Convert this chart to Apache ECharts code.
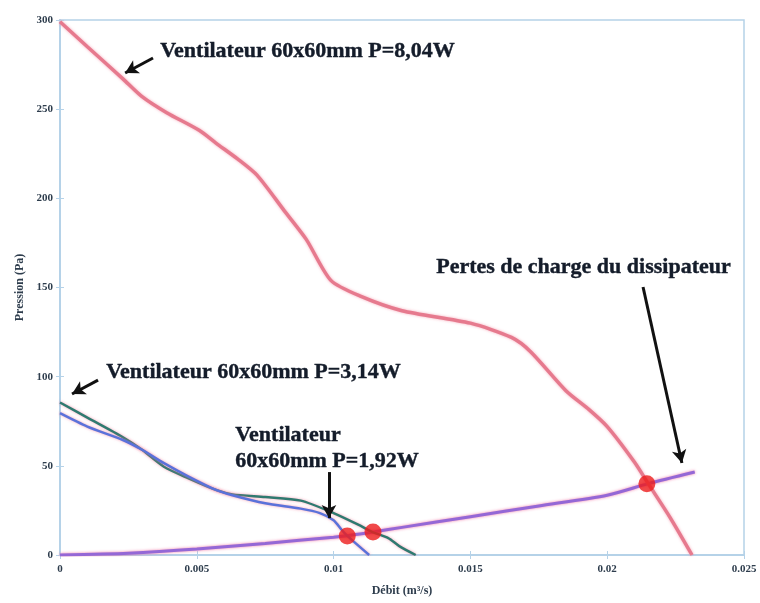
<!DOCTYPE html>
<html>
<head>
<meta charset="utf-8">
<script src="https://cdn.jsdelivr.net/npm/echarts@6/dist/echarts.min.js"></script>
<style>html,body{margin:0;padding:0;background:#fff;}#chart{width:760px;height:603px;}</style>
</head>
<body>
<div id="chart"></div>
<script>
// ---- data ----
var xTickLabels = ['0', '0.005', '0.01', '0.015', '0.02', '0.025'];
var yTickLabels = ['0', '50', '100', '150', '200', '250', '300'];

var fan804X = [0, 0.001, 0.0023, 0.003, 0.0039, 0.0051, 0.0057, 0.0065, 0.0072, 0.0082, 0.009, 0.0099, 0.011, 0.0125, 0.015, 0.0165, 0.0172, 0.0185, 0.0193, 0.02, 0.021, 0.0215, 0.0223, 0.0231];
var fan804Y = [299, 285, 267, 257, 248, 238, 231, 222, 213, 193, 177, 154, 145, 137, 130, 122, 114, 92, 82, 72, 52, 40, 21, 0];

var fan314X = [0, 0.001, 0.0023, 0.003, 0.0038, 0.0047, 0.0057, 0.0063, 0.0075, 0.0088, 0.01, 0.0109, 0.0114, 0.012, 0.0124, 0.013];
var fan314Y = [85.5, 77, 66, 59, 49.5, 43, 36.5, 34, 32.5, 30.5, 23.5, 17, 13, 9.5, 5, 0];

var fan192X = [0, 0.001, 0.0023, 0.003, 0.0038, 0.0047, 0.0057, 0.0063, 0.0075, 0.0088, 0.0095, 0.01, 0.0103, 0.0105, 0.0113];
var fan192Y = [79.5, 72, 64.5, 59, 51.5, 44, 36.5, 33.5, 29, 26, 23.5, 19.5, 14, 10.7, 0];

var lossX = [0, 0.0025, 0.005, 0.0075, 0.01, 0.0105, 0.0115, 0.0125, 0.015, 0.0175, 0.02, 0.0215, 0.0232];
var lossY = [0, 1.0, 3.3, 6.5, 10, 10.8, 13, 15.5, 21.5, 27.5, 33.5, 40, 46.5];

var pointX = [0.0105, 0.01144, 0.02145];
var pointY = [10.6, 12.9, 40];

// annotation arrows in data space
var arrowsTailX = [0.0034, 0.00139, 0.00983, 0.02131];
var arrowsTailY = [278.7, 98.1, 46.5, 150.3];
var arrowsHeadX = [0.00238, 0.00044, 0.00983, 0.02273];
var arrowsHeadY = [270.3, 90.3, 20.7, 51.6];

function zip(xs, ys) { return xs.map(function (x, i) { return [x, ys[i]]; }); }

var serif = '"Liberation Serif", "DejaVu Serif", serif';
var axisBlue = '#b5d2e8';
var tickLabelStyle = { fontFamily: serif, fontWeight: 'bold', fontSize: 11, color: '#2e3d4d' };

var chart = echarts.init(document.getElementById('chart'));

var arrowData = arrowsTailX.map(function (tx, i) {
  return [{ coord: [tx, arrowsTailY[i]] }, { coord: [arrowsHeadX[i], arrowsHeadY[i]] }];
});

function lineSeries(name, data, color, width, glow) {
  return {
    name: name, type: 'line', data: data, showSymbol: false, smooth: 0.25,
    xAxisIndex: 0, yAxisIndex: 0,
    lineStyle: { color: color, width: width, shadowColor: glow, shadowBlur: 3 },
    z: 3
  };
}

var annoText = { fontFamily: serif, fontWeight: 'bold', fontSize: 22, fill: '#141c2a', stroke: '#141c2a', lineWidth: 0.4 };
function txt(x, y, s) {
  return { type: 'text', left: x, top: y, style: Object.assign({ text: s }, annoText), z: 10 };
}

var option = {
  backgroundColor: '#ffffff',
  animation: false,
  grid: { left: 60, right: 16, top: 20, bottom: 48, show: true, borderColor: axisBlue, borderWidth: 1.5 },
  xAxis: [{
    type: 'value', min: 0, max: 0.025, interval: 0.005,
    axisLine: { show: true, onZero: false, lineStyle: { color: axisBlue, width: 2 } },
    axisTick: { show: true, inside: true, length: 4, lineStyle: { color: axisBlue } },
    splitLine: { show: false },
    axisLabel: Object.assign({ margin: 9, formatter: function (v) { return xTickLabels[Math.round(v / 0.005)]; } }, tickLabelStyle),
    name: 'Débit (m³/s)', nameLocation: 'middle', nameGap: 30,
    nameTextStyle: { fontFamily: serif, fontWeight: 'bold', fontSize: 12, color: '#2e3d4d' }
  }, {
    type: 'value', min: 0, max: 0.025, interval: 0.005, position: 'top',
    axisLine: { show: true, lineStyle: { color: axisBlue, width: 2 } },
    axisTick: { show: true, inside: true, length: 4, lineStyle: { color: axisBlue } },
    axisLabel: { show: false }, splitLine: { show: false }
  }],
  yAxis: [{
    type: 'value', min: 0, max: 300, interval: 50,
    axisLine: { show: true, onZero: false, lineStyle: { color: axisBlue, width: 2 } },
    axisTick: { show: true, inside: true, length: 4, lineStyle: { color: axisBlue } },
    splitLine: { show: false },
    axisLabel: Object.assign({ margin: 7, formatter: function (v) { return yTickLabels[Math.round(v / 50)]; } }, tickLabelStyle),
    name: 'Pression (Pa)', nameLocation: 'middle', nameGap: 32, nameRotate: 90,
    nameTextStyle: { fontFamily: serif, fontWeight: 'bold', fontSize: 12, color: '#2e3d4d' }
  }, {
    type: 'value', min: 0, max: 300, interval: 50, position: 'right',
    axisLine: { show: true, lineStyle: { color: axisBlue, width: 2 } },
    axisTick: { show: true, inside: true, length: 4, lineStyle: { color: axisBlue } },
    axisLabel: { show: false }, splitLine: { show: false }
  }],
  series: [
    lineSeries('Pertes de charge', zip(lossX, lossY), '#9468d6', 3, 'rgba(240,110,160,0.9)'),
    lineSeries('P=8,04W', zip(fan804X, fan804Y), '#e67a8e', 3.5, 'rgba(245,150,170,0.8)'),
    lineSeries('P=3,14W', zip(fan314X, fan314Y), '#2f7a70', 2.5, 'rgba(240,120,150,0.7)'),
    lineSeries('P=1,92W', zip(fan192X, fan192Y), '#5a72da', 2.5, 'rgba(240,120,150,0.7)'),
    {
      name: 'points', type: 'scatter', data: zip(pointX, pointY),
      symbolSize: 17, itemStyle: { color: '#ec1c1c' }, z: 6
    },
    {
      name: 'arrows', type: 'line', data: [], z: 8,
      markLine: {
        silent: true, symbol: ['none', 'arrow'], symbolSize: [11, 13],
        lineStyle: { color: '#111', width: 3, type: 'solid' },
        label: { show: false },
        data: arrowData
      }
    }
  ],
  graphic: [
    txt(160, 40, 'Ventilateur 60x60mm P=8,04W'),
    txt(106, 361, 'Ventilateur 60x60mm P=3,14W'),
    txt(235, 424, 'Ventilateur'),
    txt(235, 450, '60x60mm P=1,92W'),
    txt(436, 256, 'Pertes de charge du dissipateur')
  ]
};
chart.setOption(option);
</script>
</body>
</html>
